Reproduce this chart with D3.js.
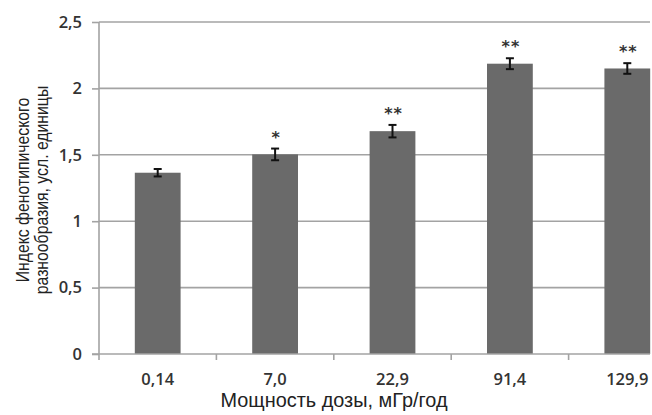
<!DOCTYPE html>
<html><head><meta charset="utf-8">
<script src="https://cdn.jsdelivr.net/npm/d3@7"></script>
<style>body{margin:0;background:#fff}svg{display:block}</style>
</head><body>
<script>
const categories = ["0,14", "7,0", "22,9", "91,4", "129,9"];
const values = [1.365, 1.503, 1.678, 2.186, 2.150];
const errors = [0.028, 0.044, 0.047, 0.041, 0.040];
const stars = ["", "*", "**", "**", "**"];
const yTicks = [0, 0.5, 1, 1.5, 2, 2.5];
const yTickLabels = ["0", "0,5", "1", "1,5", "2", "2,5"];
const xTitle = "Мощность дозы, мГр/год";
const yTitle = ["Индекс фенотипического", "разнообразия, усл. единицы"];

(function () {
const W = 652, H = 415;
const svg = d3.select("body").append("svg").attr("width", W).attr("height", H);
const mLeft = 99, mRight = 686, mTop = 22, mBottom = 354;
const x = d3.scaleBand().domain(categories).range([mLeft, mRight]).padding(0);
const y = d3.scaleLinear().domain([0, 2.5]).range([mBottom, mTop]);
const gridCol = "#a3a3a3";

// gridlines
svg.append("g").selectAll("line").data(yTicks.filter(d => d > 0)).join("line")
  .attr("x1", mLeft).attr("x2", W - 2).attr("y1", d => y(d)).attr("y2", d => y(d))
  .attr("stroke", gridCol).attr("stroke-width", 1.6);

// y axis
const yAxis = svg.append("g").attr("transform", `translate(${mLeft},0)`)
  .call(d3.axisLeft(y).tickValues(yTicks).tickFormat((d, i) => yTickLabels[i]).tickSize(7).tickPadding(10));
yAxis.select(".domain").attr("stroke", gridCol).attr("stroke-width", 1.6).attr("d", `M0,${mTop}V${mBottom}`);
yAxis.selectAll(".tick line").attr("stroke", gridCol).attr("stroke-width", 1.6);
yAxis.selectAll(".tick text").attr("font-family", "'Open Sans', sans-serif").attr("font-size", 16.5)
  .attr("font-weight", 600).attr("fill", "#333");

// bars
const bw = x.bandwidth() * 0.39;
svg.append("g").selectAll("rect").data(values).join("rect")
  .attr("x", (d, i) => x(categories[i]) + (x.bandwidth() - bw) / 2)
  .attr("width", bw)
  .attr("y", d => y(d)).attr("height", d => y(0) - y(d))
  .attr("fill", "#6a6a6a");

// x axis
const boundaries = d3.range(categories.length + 1).map(i => mLeft + i * x.step());
const xg = svg.append("g");
xg.append("line").attr("x1", mLeft - 7).attr("x2", W - 2).attr("y1", y(0)).attr("y2", y(0))
  .attr("stroke", gridCol).attr("stroke-width", 1.6);
xg.selectAll("line.t").data(boundaries).join("line").attr("class", "t")
  .attr("x1", d => d).attr("x2", d => d).attr("y1", y(0)).attr("y2", y(0) + 6)
  .attr("stroke", gridCol).attr("stroke-width", 1.6);
xg.selectAll("text").data(categories).join("text")
  .attr("x", d => x(d) + x.bandwidth() / 2).attr("y", y(0) + 31)
  .attr("text-anchor", "middle").attr("font-family", "'Open Sans', sans-serif")
  .attr("font-size", 16.5).attr("font-weight", 600).attr("fill", "#333").text(d => d);

// error bars
const eg = svg.append("g").attr("stroke", "#111").attr("stroke-width", 2);
values.forEach((v, i) => {
  const cx = x(categories[i]) + x.bandwidth() / 2;
  const e = errors[i];
  eg.append("line").attr("x1", cx).attr("x2", cx).attr("y1", y(v - e)).attr("y2", y(v + e));
  eg.append("line").attr("x1", cx - 4).attr("x2", cx + 4).attr("y1", y(v - e)).attr("y2", y(v - e));
  eg.append("line").attr("x1", cx - 4).attr("x2", cx + 4).attr("y1", y(v + e)).attr("y2", y(v + e));
});

// significance stars
svg.append("g").selectAll("text").data(stars).join("text")
  .attr("x", (d, i) => x(categories[i]) + x.bandwidth() / 2 + 1)
  .attr("y", (d, i) => y(values[i] + errors[i]) - 6)
  .attr("text-anchor", "middle").attr("font-family", "'DejaVu Sans', sans-serif")
  .attr("font-size", 16).attr("font-weight", "bold").attr("letter-spacing", 1)
  .attr("fill", "#333").text(d => d);

// axis titles
svg.append("text").attr("x", 334).attr("y", 407)
  .attr("text-anchor", "middle").attr("font-family", "'Liberation Sans', Arial, sans-serif")
  .attr("font-size", 20).attr("fill", "#222").attr("textLength", 227).attr("lengthAdjust", "spacingAndGlyphs")
  .text(xTitle);

const yt = svg.append("g").attr("transform", "translate(0,190) rotate(-90)");
yt.selectAll("text").data(yTitle).join("text")
  .attr("x", 0).attr("y", (d, i) => 29 + i * 19)
  .attr("text-anchor", "middle").attr("font-family", "'Liberation Sans', Arial, sans-serif")
  .attr("font-size", 19).attr("fill", "#222").text(d => d)
  .each(function () {
    const len = this.getComputedTextLength();
    d3.select(this).attr("textLength", len * 0.83).attr("lengthAdjust", "spacingAndGlyphs");
  });
})();
</script>
</body></html>
